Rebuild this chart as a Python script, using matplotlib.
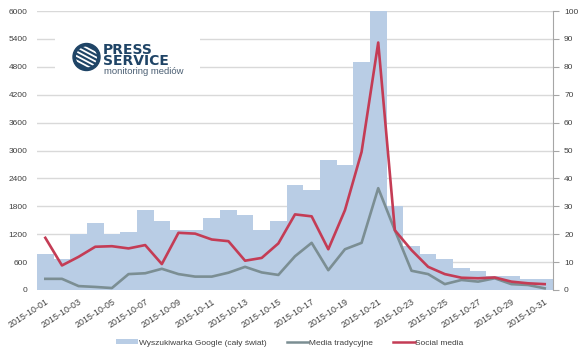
import matplotlib
matplotlib.use("Agg")
import matplotlib.pyplot as plt
from matplotlib.patches import Circle
from matplotlib.lines import Line2D
from matplotlib.patches import Patch
import numpy as np

plt.rcParams['font.family'] = ['Liberation Sans', 'DejaVu Sans']

dates = ["2015-10-%02d" % d for d in range(1, 32)]

# Wyszukiwarka Google (left axis)
google = [780, 660, 1200, 1440, 1200, 1250, 1730, 1490, 1300, 1300,
          1550, 1730, 1620, 1300, 1480, 2260, 2140, 2800, 2690, 4900,
          6000, 1800, 950, 770, 660, 480, 410, 300, 300, 240, 240]
# Media tradycyjne (right axis)
media = [4.0, 4.0, 1.4, 1.1, 0.7, 5.7, 6.0, 7.6, 5.7, 4.8,
         4.8, 6.2, 8.3, 6.3, 5.4, 12.1, 16.9, 7.1, 14.6, 16.9,
         36.5, 21.4, 6.9, 5.7, 2.1, 3.6, 3.0, 4.2, 2.1, 1.8, 0.6]
# Social media (right axis)
social = [18.7, 8.8, 11.9, 15.5, 15.7, 14.9, 16.1, 9.3, 20.5, 20.2,
          18.1, 17.5, 10.5, 11.5, 16.7, 27.1, 26.4, 14.6, 28.6, 49.5,
          88.7, 21.4, 14.3, 8.3, 5.7, 4.4, 4.2, 4.5, 3.0, 2.4, 2.1]

bar_col = '#b9cde5'
gray_col = '#7b8e93'
red_col = '#c43c55'
txt_col = '#404040'

fig = plt.figure(figsize=(5.8, 3.54), dpi=100)
ax = fig.add_axes([37/580, 64/354, 516/580, 279/354])
x = np.arange(len(dates))

ax.bar(x, google, width=1.0, color=bar_col, zorder=2)
ax.set_xlim(-0.5, len(dates) - 0.5)
ax.set_ylim(0, 6000)
ax.set_yticks(np.arange(0, 6001, 600))
ax.yaxis.grid(True, color='#d9d9d9', linewidth=1.0, zorder=0)
ax.set_axisbelow(True)
for s in ax.spines.values():
    s.set_visible(False)
ax.tick_params(axis='y', length=0, labelsize=6, labelcolor=txt_col, pad=7)
ax.set_xticks(x[::2])
ax.set_xticklabels(dates[::2], rotation=33, ha='right', rotation_mode='anchor',
                   fontsize=6.4, color=txt_col)
ax.tick_params(axis='x', length=0, pad=5)

ax2 = ax.twinx()
ax2.plot(x, media, color=gray_col, linewidth=1.9, zorder=3)
ax2.plot(x, social, color=red_col, linewidth=1.9, zorder=4)
ax2.set_ylim(0, 100)
ax2.set_yticks(np.arange(0, 101, 10))
for k in ['top', 'left', 'bottom']:
    ax2.spines[k].set_visible(False)
ax2.spines['right'].set_color('#a6a6a6')
ax2.tick_params(axis='y', length=4, color='#a6a6a6', labelsize=6,
                labelcolor=txt_col, pad=4)

handles = [Patch(facecolor=bar_col, edgecolor='none'),
           Line2D([0], [0], color=gray_col, linewidth=1.8),
           Line2D([0], [0], color=red_col, linewidth=1.8)]
labels = ['Wyszukiwarka Google (cały świat)', 'Media tradycyjne', 'Social media']
fig.legend(handles, labels, loc='center', bbox_to_anchor=(0.5, 11/354), ncol=3,
           frameon=False, fontsize=6, labelcolor=txt_col, handlelength=2.6,
           handleheight=0.5, handletextpad=0.1, columnspacing=2.4)

# logo box
lg = fig.add_axes([55/580, (354-88)/354, 145/580, 68/354])
lg.set_xlim(55, 200)
lg.set_ylim(88, 20)
lg.axis('off')
lg.add_patch(plt.Rectangle((55, 20), 145, 68, color='white', zorder=0))
navy = '#1f4466'
circ = Circle((86.5, 57), 13.5, color=navy, zorder=1)
lg.add_patch(circ)
for off in [-9, -4.5, 0, 4.5, 9]:
    ln, = lg.plot([70, 104], [57 + off - 9, 57 + off + 9], color='white',
                  linewidth=1.3, zorder=2)
    ln.set_clip_path(Circle((86.5, 57), 10.5, transform=lg.transData))
lg.text(103, 42.5, 'PRESS\nSERVICE', fontsize=10, fontweight='bold', color=navy,
        family='DejaVu Sans', ha='left', va='top', linespacing=0.75)
lg.text(104, 67.5, 'monitoring mediów', fontsize=6.8, color='#4b5f73',
        ha='left', va='top')

fig.savefig('out.png', dpi=100)
